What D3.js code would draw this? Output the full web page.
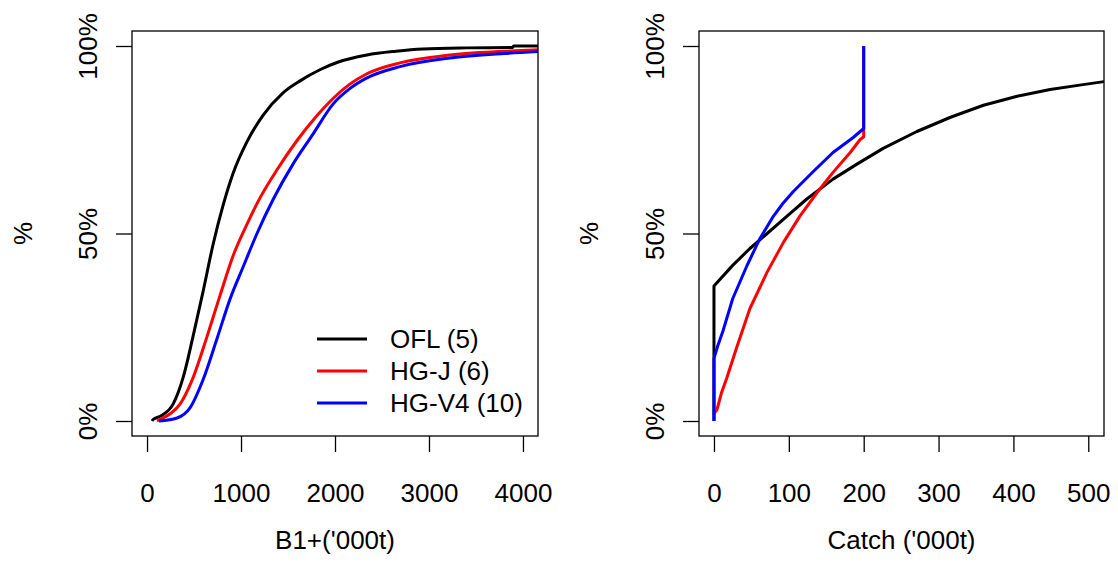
<!DOCTYPE html>
<html>
<head>
<meta charset="utf-8">
<script src="https://cdn.jsdelivr.net/npm/d3@7"></script>
<style>
  body { margin: 0; background: #fff; }
  svg text { font-family: "Liberation Sans", Arial, sans-serif; font-size: 26px; fill: #000; }
  .axis path.domain { display: none; }
  .axis line { stroke: #000; stroke-width: 1.3; }
</style>
</head>
<body>
<div id="chart"></div>
<script>

// series: [x, cumulative share]
var seriesNames = ["OFL (5)", "HG-J (6)", "HG-V4 (10)"];
var seriesColors = ["#000000", "#ff0000", "#0000ff"];

var b1_ofl = [[53,0],[64,0.004],[150,0.014],[277,0.045],[383,0.115],[489,0.225],[596,0.345],[702,0.47],
    [809,0.575],[915,0.66],[1064,0.745],[1234,0.815],[1447,0.875],[1628,0.907],[1850,0.938],[2021,0.956],
    [2340,0.976],[2650,0.986],[2936,0.992],[3400,0.995],[3890,0.996],[3900,1.0],[4160,1.0]];
var b1_hgj = [[106,0],[138,0.004],[250,0.02],[351,0.045],[489,0.115],[638,0.225],[777,0.335],[915,0.44],
    [1064,0.525],[1202,0.595],[1383,0.67],[1596,0.748],[1800,0.812],[1979,0.86],[2150,0.897],[2340,0.926],
    [2691,0.955],[3223,0.976],[3862,0.987],[4160,0.99]];
var b1_hgv4 = [[128,0],[319,0.008],[457,0.035],[596,0.11],[745,0.22],[883,0.325],[1021,0.41],[1170,0.5],
    [1340,0.59],[1553,0.685],[1766,0.765],[1979,0.845],[2150,0.885],[2340,0.915],[2691,0.945],
    [3223,0.968],[3800,0.98],[4160,0.985]];

var c_ofl = [[0,0],[0,0.36],[25,0.415],[48,0.46],[71,0.5],[98,0.547],[124,0.592],[159,0.645],[191,0.685],
    [226,0.727],[271,0.772],[316,0.81],[360,0.842],[405,0.866],[449,0.884],[493,0.897],[521,0.905]];
var c_hgj = [[0,0.02],[4,0.03],[10,0.075],[17,0.114],[31,0.2],[48,0.3],[71,0.397],[93,0.477],[115,0.547],
    [138,0.61],[159,0.663],[182,0.716],[195,0.75],[200,0.758],[200,1.0]];
var c_hgv4 = [[0,0],[0,0.167],[5,0.2],[12,0.24],[25,0.326],[44,0.414],[61,0.485],[79,0.545],[92,0.58],
    [106,0.612],[132,0.664],[159,0.716],[186,0.756],[200,0.78],[200,1.0]];

var b1Ticks = [0, 1000, 2000, 3000, 4000];
var catchTicks = [0, 100, 200, 300, 400, 500];
var yTicks = [0, 0.5, 1];

var panels = [
    {box: [132, 31, 538, 436], xdom: [-160, 4160], ticks: b1Ticks, title: "B1+('000t)",
     series: [b1_ofl, b1_hgj, b1_hgv4], legend: true, ylabX: 32, curve: d3.curveMonotoneX},
    {box: [699, 31, 1104, 436], xdom: [-20, 521], ticks: catchTicks, title: "Catch ('000t)",
     series: [c_ofl, c_hgj, c_hgv4], legend: false, ylabX: 598, curve: d3.curveLinear}
];

var svg = d3.select("#chart").append("svg")
    .attr("width", 1118)
    .attr("height", 569);

panels.forEach(function(p) {
    var x0 = p.box[0], y0 = p.box[1], x1 = p.box[2], y1 = p.box[3];

    var x = d3.scaleLinear().domain(p.xdom).range([x0, x1]);
    var y = d3.scaleLinear().domain([-0.04, 1.04]).range([y1, y0]);

    var line_gen = d3.line()
        .x(d => x(d[0]))
        .y(d => y(d[1]))
        .curve(p.curve);

    var g = svg.append("g");

    g.selectAll(".series")
        .data(p.series)
        .enter()
        .append("path")
        .attr("class", "series")
        .attr("d", d => line_gen(d))
        .attr("fill", "none")
        .attr("stroke", (d, i) => seriesColors[i])
        .attr("stroke-width", 3)
        .attr("stroke-linejoin", "round");

    g.append("rect")
        .attr("x", x0).attr("y", y0)
        .attr("width", x1 - x0).attr("height", y1 - y0)
        .attr("fill", "none")
        .attr("stroke", "#000")
        .attr("stroke-width", 1.3);

    var xAxis = d3.axisBottom(x)
        .tickValues(p.ticks)
        .tickSizeOuter(0)
        .tickSizeInner(16)
        .tickPadding(32)
        .tickFormat(d3.format("d"));

    g.append("g")
        .attr("class", "axis axis--x")
        .attr("transform", "translate(0," + y1 + ")")
        .call(xAxis)
        .attr("font-size", null)
        .attr("font-family", null);

    var yAxis = d3.axisLeft(y)
        .tickValues(yTicks)
        .tickSizeOuter(0)
        .tickSizeInner(16)
        .tickFormat(d3.format(".0%"));

    var ya = g.append("g")
        .attr("class", "axis axis--y")
        .attr("transform", "translate(" + x0 + ",0)")
        .call(yAxis);

    ya.attr("font-size", null).attr("font-family", null);
    ya.selectAll("text")
        .attr("transform", "rotate(-90)")
        .attr("x", 0)
        .attr("y", -35)
        .attr("dy", 0)
        .style("text-anchor", "middle");

    g.append("text")
        .attr("x", (x0 + x1) / 2)
        .attr("y", 549)
        .attr("text-anchor", "middle")
        .text(p.title);

    g.append("text")
        .attr("transform", "translate(" + p.ylabX + "," + ((y0 + y1) / 2) + ") rotate(-90)")
        .attr("text-anchor", "middle")
        .text("%");

    if (p.legend) {
        var leg = g.append("g")
            .selectAll(".leg")
            .data(seriesNames)
            .enter()
            .append("g")
            .attr("transform", (d, i) => "translate(317," + (339 + i * 32) + ")");
        leg.append("line")
            .attr("x1", 0).attr("x2", 50)
            .attr("stroke", (d, i) => seriesColors[i])
            .attr("stroke-width", 3);
        leg.append("text")
            .attr("x", 73)
            .attr("dy", "0.36em")
            .text(d => d);
    }
});
</script>
</body>
</html>
